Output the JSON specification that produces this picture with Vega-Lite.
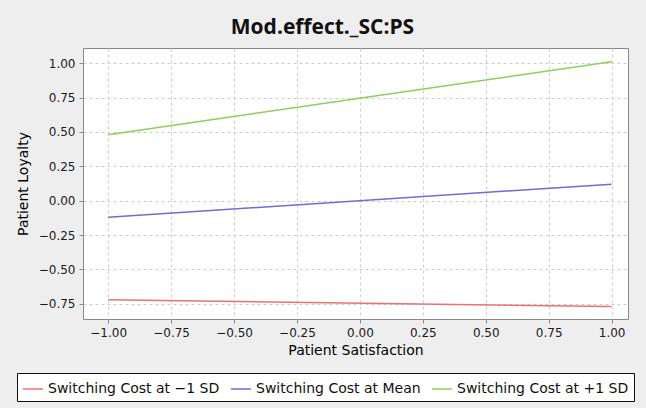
{
  "$schema": "https://vega.github.io/schema/vega-lite/v6.json",
  "width": 545,
  "height": 271,
  "autosize": "none",
  "padding": {"left": 83, "top": 48, "right": 18, "bottom": 89},
  "background": "#eeeeee",
  "title": {"text": "Mod.effect._SC:PS", "font": "Open Sans", "fontSize": 21, "fontWeight": "bold", "color": "#111111", "anchor": "middle", "dx": -33, "offset": 10},
  "data": {"values": [
    {"ps": -1, "pl": -0.72, "series": "Switching Cost at −1 SD"},
    {"ps": 1, "pl": -0.77, "series": "Switching Cost at −1 SD"},
    {"ps": -1, "pl": -0.12, "series": "Switching Cost at Mean"},
    {"ps": 1, "pl": 0.12, "series": "Switching Cost at Mean"},
    {"ps": -1, "pl": 0.48, "series": "Switching Cost at +1 SD"},
    {"ps": 1, "pl": 1.01, "series": "Switching Cost at +1 SD"}
  ]},
  "mark": {"type": "line", "strokeWidth": 1.5},
  "encoding": {
    "x": {"field": "ps", "type": "quantitative", "title": "Patient Satisfaction",
      "scale": {"domain": [-1.1, 1.065], "nice": false, "zero": false},
      "axis": {"values": [-1, -0.75, -0.5, -0.25, 0, 0.25, 0.5, 0.75, 1], "format": ".2f"}},
    "y": {"field": "pl", "type": "quantitative", "title": "Patient Loyalty",
      "scale": {"domain": [-0.86, 1.11], "nice": false, "zero": false},
      "axis": {"values": [-0.75, -0.5, -0.25, 0, 0.25, 0.5, 0.75, 1], "format": ".2f"}},
    "color": {"field": "series", "type": "nominal", "title": null,
      "scale": {"domain": ["Switching Cost at −1 SD", "Switching Cost at Mean", "Switching Cost at +1 SD"], "range": ["#f07070", "#6e6ed0", "#8ccf5c"]},
      "legend": {"orient": "none", "legendX": -66, "legendY": 325, "direction": "horizontal", "symbolType": "stroke", "symbolSize": 400, "symbolStrokeWidth": 1.5, "labelFontSize": 14, "labelFont": "DejaVu Sans", "labelColor": "#111111", "strokeColor": "#111111", "fillColor": "#ffffff", "padding": 5, "columnPadding": 8, "labelLimit": 300, "labelOffset": 4, "offset": 0}
    }
  },
  "config": {
    "view": {"fill": "#ffffff", "stroke": "#888888", "strokeWidth": 1},
    "axis": {
      "labelFont": "DejaVu Sans", "labelFontSize": 12, "labelColor": "#1a1a1a",
      "titleFont": "DejaVu Sans", "titleFontSize": 14, "titleFontWeight": "normal", "titleColor": "#000000",
      "gridColor": "#cccccc", "gridDash": [3, 3], "gridWidth": 1,
      "domain": false, "tickColor": "#888888", "tickSize": 4
    },
    "axisX": {"titlePadding": 5, "labelPadding": 4},
    "axisY": {"titlePadding": 8, "labelPadding": 4}
  }
}
